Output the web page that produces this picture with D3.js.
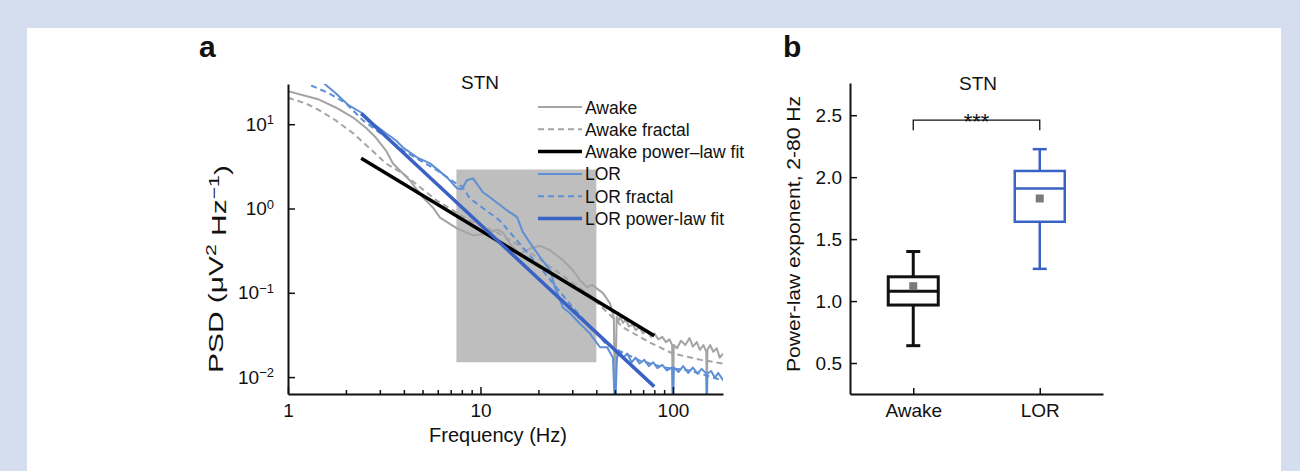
<!DOCTYPE html>
<html>
<head>
<meta charset="utf-8">
<script src="https://cdn.jsdelivr.net/npm/d3@7"></script>
<style>
  body { margin: 0; background: #d5deef; }
  text { font-family: 'Liberation Sans', Arial, sans-serif; fill: #111; }
</style>
</head>
<body>
<svg id="svg" width="1300" height="471"></svg>
<script>
// panel a: spectra, [frequency Hz, PSD]
const awake = [
  [1.0, 24.6], [1.45, 19.6], [1.77, 15.8], [2.18, 12.0], [2.54, 9.1], [2.86, 6.95], [3.23, 4.87],
  [3.51, 3.42], [3.68, 3.06], [4.3, 2.15], [5.03, 1.35], [5.66, 1.03], [6.16, 0.78], [7.55, 0.58],
  [9.14, 0.48], [10.8, 0.5], [12.2, 0.56], [13.1, 0.52], [14.2, 0.385], [16.0, 0.29], [18.1, 0.335],
  [20.4, 0.36], [23.0, 0.32], [26.8, 0.243], [30.2, 0.185], [33, 0.14], [35.8, 0.116], [38, 0.125],
  [40.3, 0.112], [43.3, 0.099], [47.1, 0.075], [49.3, 0.051], [50, 0.004], [51, 0.052], [52, 0.045],
  [53, 0.052], [55, 0.044], [57, 0.048], [59, 0.04], [62, 0.042], [64, 0.036], [67, 0.039], [70, 0.033],
  [73, 0.036], [77, 0.03], [80, 0.033], [84, 0.028], [88, 0.03], [92, 0.026], [96, 0.028], [99, 0.024],
  [100, 0.004], [101, 0.024], [105, 0.022], [110, 0.027], [116, 0.024], [122, 0.029], [127, 0.023],
  [133, 0.026], [138, 0.021], [144, 0.024], [149, 0.02], [150, 0.006], [151, 0.021], [156, 0.024],
  [162, 0.02], [169, 0.022], [175, 0.017], [182, 0.019]
]
const awakeFractal = [
  [1.0, 20.7], [1.24, 17.6], [1.45, 14.7], [1.77, 11.1], [2.18, 7.8], [2.63, 5.3], [3.23, 3.42],
  [3.96, 2.6], [5.94, 1.24], [8.8, 0.72], [12.6, 0.5], [20.4, 0.25], [35.8, 0.099], [55, 0.039],
  [75, 0.026], [100, 0.019], [140, 0.016], [182, 0.0145]
]
const lor = [
  [1.54, 30.4], [1.77, 23.3], [2.07, 16.7], [2.45, 13.4], [2.77, 10.2], [3.23, 7.8], [3.64, 6.4],
  [3.96, 5.3], [4.68, 4.04], [5.47, 3.43], [6.7, 2.34], [7.55, 1.74], [8.0, 1.69], [8.5, 2.16],
  [9.14, 2.28], [10.3, 1.56], [11.2, 1.36], [13.7, 0.955], [15.5, 0.79], [16.6, 0.525], [18.7, 0.35],
  [20.4, 0.264], [23.0, 0.186], [24.4, 0.116], [26.8, 0.067], [29, 0.058], [31.7, 0.047], [34, 0.04],
  [37.0, 0.033], [41.8, 0.0226], [45.5, 0.0226], [48.8, 0.017], [50, 0.004], [51.2, 0.017],
  [53, 0.02], [55, 0.017], [58, 0.019], [61, 0.015], [64, 0.017], [67, 0.0145], [71, 0.016],
  [75, 0.0135], [79, 0.015], [83, 0.0128], [88, 0.014], [93, 0.012], [99, 0.013], [100, 0.004],
  [101, 0.013], [107, 0.0115], [113, 0.0135], [120, 0.0112], [127, 0.013], [134, 0.011],
  [141, 0.0125], [149, 0.011], [150, 0.004], [151, 0.011], [158, 0.0118], [165, 0.0098],
  [172, 0.0112], [182, 0.0092]
]
const lorFractal = [
  [1.32, 28.8], [1.63, 23.3], [2.0, 17.7], [2.45, 11.1], [3.23, 7.0], [3.96, 4.9], [5.94, 2.84],
  [7.2, 2.1], [8.1, 1.79], [8.8, 1.32], [12.6, 0.72], [20.4, 0.2], [30.2, 0.067], [45.5, 0.024],
  [67, 0.0158], [90, 0.013], [122, 0.012], [182, 0.0091]
]
const awakeFit = [[2.4, 3.95], [80, 0.031]]
const lorFit = [[2.4, 13.4], [80, 0.0077]]
const band = { f0: 7.5, f1: 40, p0: 0.015, p1: 2.9 }

const legendLabels = ['Awake', 'Awake fractal', 'Awake power\u2013law fit', 'LOR', 'LOR fractal', 'LOR power-law fit']
const xTicksMajor = [1, 10, 100]
const xTicksMinor = [2, 3, 4, 5, 6, 7, 8, 9, 20, 30, 40, 50, 60, 70, 80, 90]
const yTicksA = [0.01, 0.1, 1, 10]
const yExponents = ['\u22122', '\u22121', '0', '1']

// panel b: power-law exponent box plot
const groups = ['Awake', 'LOR']
const whiskerLow = [0.64, 1.26]
const q1 = [0.968, 1.64]
const median = [1.08, 1.909]
const q3 = [1.196, 2.05]
const whiskerHigh = [1.4, 2.226]
const means = [1.12, 1.828]
const yTicksB = [0.5, 1.0, 1.5, 2.0, 2.5]

const gray = '#a4a4a4'
const lightBlue = '#5e8fd6'
const darkBlue = '#3a62c4'
const labelSize = 19

const svg = d3.select('#svg')
svg.append('rect').attr('width', 1300).attr('height', 471).attr('fill', '#d5deef')
svg.append('rect').attr('x', 27).attr('y', 28).attr('width', 1254).attr('height', 443).attr('fill', '#fff')

// ---------- panel a ----------
const x = d3.scaleLog().domain([1, 182]).range([288, 723])
const y = d3.scaleLog().domain([0.0063, 30]).range([394, 84])

svg.append('defs').append('clipPath').attr('id', 'clipA')
  .append('rect').attr('x', 288).attr('y', 84).attr('width', 435).attr('height', 310)

const plotA = svg.append('g').attr('clip-path', 'url(#clipA)')

plotA.append('rect')
  .attr('x', x(band.f0)).attr('y', y(band.p1))
  .attr('width', x(band.f1) - x(band.f0)).attr('height', y(band.p0) - y(band.p1))
  .attr('fill', '#bebebe')

const line = d3.line().x(d => x(d[0])).y(d => y(d[1]))

const series = [
  { data: awake, color: gray, width: 2, dash: null },
  { data: awakeFractal, color: gray, width: 2, dash: '6,4' },
  { data: awakeFit, color: '#000', width: 3.5, dash: null },
  { data: lor, color: lightBlue, width: 2, dash: null },
  { data: lorFractal, color: lightBlue, width: 2, dash: '6,4' },
  { data: lorFit, color: darkBlue, width: 3.5, dash: null }
]
const drawOrder = [0, 1, 3, 4, 2, 5]
drawOrder.forEach(i => {
  const s = series[i]
  plotA.append('path')
    .attr('d', line(s.data))
    .attr('fill', 'none')
    .attr('stroke', s.color)
    .attr('stroke-width', s.width)
    .attr('stroke-dasharray', s.dash)
    .attr('stroke-linejoin', 'round')
})

// legend
legendLabels.forEach((label, i) => {
  const s = series[i]
  const ly = 107 + i * 22.3
  svg.append('line')
    .attr('x1', 538).attr('x2', 582).attr('y1', ly).attr('y2', ly)
    .attr('stroke', s.color).attr('stroke-width', s.width === 2 ? 2 : 3.5)
    .attr('stroke-dasharray', s.dash)
  svg.append('text').attr('x', 585).attr('y', ly + 6.5).attr('font-size', 17.5).text(label)
})

// axes
const xAxisA = svg.append('g')
  .attr('transform', 'translate(0,394)')
  .call(d3.axisBottom(x).tickValues(xTicksMajor.concat(xTicksMinor)).tickSize(-7).tickSizeOuter(0)
    .tickPadding(10).tickFormat(d => xTicksMajor.includes(d) ? d : ''))
xAxisA.selectAll('.tick line').attr('y2', d => xTicksMajor.includes(d) ? -7 : -4)

const yAxisA = svg.append('g')
  .attr('transform', 'translate(288,0)')
  .call(d3.axisLeft(y).tickValues(yTicksA).tickSize(-7).tickSizeOuter(0).tickPadding(14).tickFormat(''))
yAxisA.selectAll('.tick text').each(function (d, i) {
  const t = d3.select(this)
  t.append('tspan').text('10')
  t.append('tspan').attr('dy', '-0.5em').attr('font-size', 13).text(yExponents[i])
})

;[xAxisA, yAxisA].forEach(g => {
  g.select('.domain').attr('stroke-width', 2).attr('stroke', '#111')
  g.selectAll('.tick line').attr('stroke-width', 1.5).attr('stroke', '#111')
  g.selectAll('.tick text').attr('font-size', labelSize).attr('font-family', null).attr('fill', '#111')
})

svg.append('text').attr('x', 480).attr('y', 89).attr('text-anchor', 'middle').attr('font-size', labelSize).text('STN')
svg.append('text').attr('x', 498).attr('y', 442).attr('text-anchor', 'middle').attr('font-size', 20).text('Frequency (Hz)')

// rotated labels are drawn longer in the source figure, so stretch them along the baseline
const yLabelA = svg.append('text').attr('transform', 'translate(223,269) rotate(-90)')
  .attr('text-anchor', 'middle').attr('font-size', 21)
  .attr('textLength', 208).attr('lengthAdjust', 'spacingAndGlyphs')
yLabelA.append('tspan').text('PSD (\u03bcV')
yLabelA.append('tspan').attr('dy', '-0.5em').attr('font-size', 15).text('2')
yLabelA.append('tspan').attr('dy', '0.5em').text(' Hz')
yLabelA.append('tspan').attr('dy', '-0.5em').attr('font-size', 15).text('\u22121')
yLabelA.append('tspan').attr('dy', '0.5em').text(')')

svg.append('text').attr('x', 199).attr('y', 57).attr('font-size', 30).attr('font-weight', 'bold').text('a')

// ---------- panel b ----------
const xb = d3.scalePoint().domain(groups).range([850, 1103]).padding(0.5)
const yb = d3.scaleLinear().domain([0.25, 2.76]).range([394, 83])

const xAxisB = svg.append('g')
  .attr('transform', 'translate(0,394)')
  .call(d3.axisBottom(xb).tickSize(-6).tickSizeOuter(0).tickPadding(10))
const yAxisB = svg.append('g')
  .attr('transform', 'translate(850,0)')
  .call(d3.axisLeft(yb).tickValues(yTicksB).tickSize(-7).tickSizeOuter(0).tickPadding(8).tickFormat(d3.format('.1f')))

;[xAxisB, yAxisB].forEach(g => {
  g.select('.domain').attr('stroke-width', 2).attr('stroke', '#111')
  g.selectAll('.tick line').attr('stroke-width', 1.5).attr('stroke', '#111')
  g.selectAll('.tick text').attr('font-size', labelSize).attr('font-family', null).attr('fill', '#111')
})

const boxColors = ['#111', darkBlue]
const boxStroke = [3, 2.5]
groups.forEach((g, i) => {
  const cx = xb(g)
  const bw = 50
  const cap = 14
  const gb = svg.append('g').attr('stroke', boxColors[i]).attr('stroke-width', boxStroke[i]).attr('fill', 'none')
  gb.append('line').attr('x1', cx).attr('x2', cx).attr('y1', yb(q3[i])).attr('y2', yb(whiskerHigh[i]))
  gb.append('line').attr('x1', cx).attr('x2', cx).attr('y1', yb(q1[i])).attr('y2', yb(whiskerLow[i]))
  gb.append('line').attr('x1', cx - cap / 2).attr('x2', cx + cap / 2).attr('y1', yb(whiskerHigh[i])).attr('y2', yb(whiskerHigh[i]))
  gb.append('line').attr('x1', cx - cap / 2).attr('x2', cx + cap / 2).attr('y1', yb(whiskerLow[i])).attr('y2', yb(whiskerLow[i]))
  gb.append('rect').attr('x', cx - bw / 2).attr('y', yb(q3[i])).attr('width', bw).attr('height', yb(q1[i]) - yb(q3[i]))
  gb.append('line').attr('x1', cx - bw / 2).attr('x2', cx + bw / 2).attr('y1', yb(median[i])).attr('y2', yb(median[i]))
  svg.append('rect').attr('x', cx - 4).attr('y', yb(means[i]) - 4).attr('width', 8).attr('height', 8).attr('fill', '#7a7a7a')
})

// significance bracket
const bracketY = yb(2.46)
svg.append('path')
  .attr('d', `M${xb('Awake')},${bracketY + 10}V${bracketY}H${xb('LOR')}V${bracketY + 10}`)
  .attr('fill', 'none').attr('stroke', '#111').attr('stroke-width', 1.3)
svg.append('text').attr('x', (xb('Awake') + xb('LOR')) / 2).attr('y', bracketY + 9)
  .attr('text-anchor', 'middle').attr('font-size', 22).text('***')

svg.append('text').attr('x', 978).attr('y', 90).attr('text-anchor', 'middle').attr('font-size', labelSize).text('STN')
svg.append('text').attr('transform', 'translate(800,234) rotate(-90)').attr('text-anchor', 'middle')
  .attr('font-size', 19).attr('textLength', 276).attr('lengthAdjust', 'spacingAndGlyphs')
  .text('Power-law exponent, 2-80 Hz')
svg.append('text').attr('x', 783).attr('y', 57).attr('font-size', 30).attr('font-weight', 'bold').text('b')
</script>
</body>
</html>
